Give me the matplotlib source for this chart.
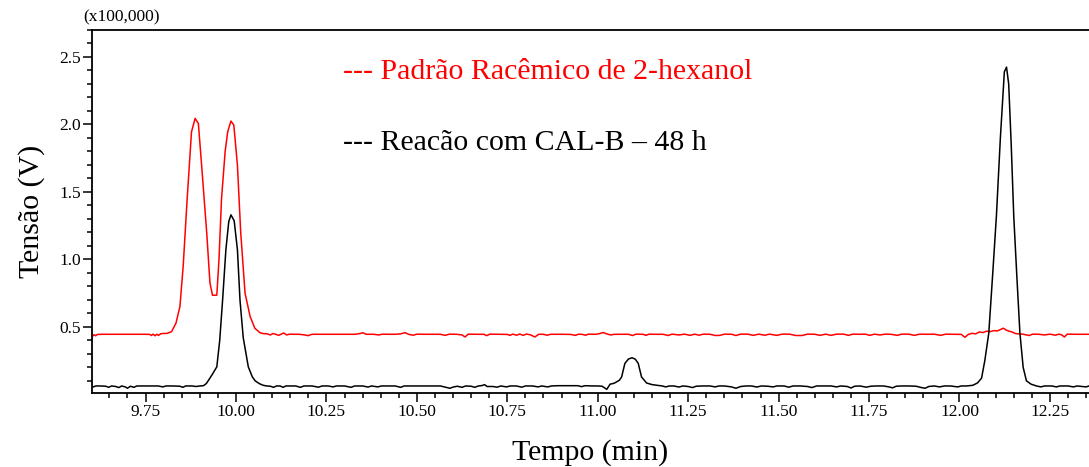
import matplotlib
matplotlib.use("Agg")
import matplotlib.pyplot as plt
from matplotlib.ticker import MultipleLocator, FormatStrFormatter

plt.rcParams['font.family'] = ['Liberation Serif', 'DejaVu Serif']

# --- chromatogram traces (time in min, signal in x100,000 V) ---
red_time = [
    9.600, 9.604, 9.608, 9.612, 9.617, 9.630, 9.650, 9.670, 9.690, 9.710,
    9.730, 9.750, 9.762, 9.766, 9.771, 9.776, 9.781, 9.786, 9.792, 9.800,
    9.810, 9.822, 9.834, 9.845, 9.854, 9.865, 9.877, 9.887, 9.896, 9.905,
    9.919, 9.928, 9.935, 9.947, 9.953, 9.960, 9.970, 9.977, 9.986, 9.994,
    10.004, 10.013, 10.025, 10.039, 10.052, 10.066, 10.075, 10.085, 10.095, 10.102,
    10.110, 10.118, 10.125, 10.132, 10.140, 10.148, 10.160, 10.175, 10.190, 10.199,
    10.210, 10.240, 10.270, 10.300, 10.330, 10.342, 10.351, 10.360, 10.380, 10.395,
    10.405, 10.420, 10.440, 10.455, 10.467, 10.478, 10.490, 10.500, 10.520, 10.545,
    10.565, 10.578, 10.590, 10.610, 10.625, 10.633, 10.642, 10.665, 10.685, 10.693,
    10.702, 10.730, 10.750, 10.757, 10.765, 10.776, 10.784, 10.794, 10.803, 10.815,
    10.826, 10.837, 10.850, 10.860, 10.870, 10.900, 10.925, 10.938, 10.948, 10.958,
    10.966, 10.975, 10.995, 11.005, 11.015, 11.026, 11.036, 11.046, 11.070, 11.085,
    11.096, 11.106, 11.125, 11.133, 11.142, 11.160, 11.180, 11.195, 11.205, 11.225,
    11.240, 11.255, 11.268, 11.280, 11.292, 11.310, 11.325, 11.338, 11.350, 11.370,
    11.382, 11.395, 11.415, 11.430, 11.445, 11.462, 11.475, 11.495, 11.510, 11.530,
    11.547, 11.565, 11.580, 11.600, 11.615, 11.630, 11.645, 11.660, 11.680, 11.693,
    11.705, 11.725, 11.740, 11.752, 11.765, 11.780, 11.795, 11.810, 11.828, 11.840,
    11.860, 11.875, 11.890, 11.910, 11.930, 11.948, 11.962, 11.990, 12.005, 12.015,
    12.025, 12.035, 12.045, 12.055, 12.065, 12.075, 12.085, 12.095, 12.105, 12.115,
    12.121, 12.128, 12.135, 12.145, 12.155, 12.165, 12.175, 12.185, 12.193, 12.202,
    12.220, 12.235, 12.250, 12.265, 12.275, 12.283, 12.290, 12.298, 12.320, 12.340,
    12.358,
]
red_signal = [
    0.438, 0.432, 0.442, 0.434, 0.444, 0.445, 0.445, 0.445, 0.445, 0.445,
    0.445, 0.445, 0.444, 0.436, 0.446, 0.434, 0.445, 0.437, 0.449, 0.451,
    0.452, 0.465, 0.527, 0.650, 0.950, 1.448, 1.945, 2.045, 2.007, 1.696,
    1.200, 0.826, 0.734, 0.735, 1.000, 1.450, 1.800, 1.945, 2.025, 1.995,
    1.696, 1.200, 0.750, 0.577, 0.490, 0.457, 0.450, 0.449, 0.440, 0.450,
    0.445, 0.437, 0.446, 0.455, 0.440, 0.446, 0.445, 0.445, 0.440, 0.435,
    0.445, 0.445, 0.445, 0.445, 0.445, 0.450, 0.456, 0.445, 0.445, 0.440,
    0.446, 0.445, 0.445, 0.448, 0.457, 0.444, 0.438, 0.446, 0.445, 0.445,
    0.445, 0.437, 0.446, 0.445, 0.440, 0.425, 0.446, 0.445, 0.445, 0.435,
    0.446, 0.445, 0.444, 0.437, 0.446, 0.438, 0.447, 0.437, 0.447, 0.440,
    0.425, 0.445, 0.445, 0.438, 0.445, 0.445, 0.444, 0.437, 0.446, 0.444,
    0.438, 0.446, 0.445, 0.450, 0.458, 0.447, 0.440, 0.445, 0.445, 0.445,
    0.436, 0.446, 0.445, 0.437, 0.446, 0.445, 0.445, 0.436, 0.446, 0.440,
    0.446, 0.437, 0.446, 0.438, 0.446, 0.445, 0.436, 0.437, 0.446, 0.445,
    0.436, 0.446, 0.446, 0.437, 0.446, 0.438, 0.446, 0.437, 0.446, 0.446,
    0.436, 0.436, 0.446, 0.445, 0.437, 0.446, 0.437, 0.446, 0.446, 0.437,
    0.446, 0.445, 0.446, 0.437, 0.446, 0.440, 0.446, 0.445, 0.437, 0.446,
    0.446, 0.437, 0.446, 0.445, 0.446, 0.437, 0.446, 0.445, 0.444, 0.423,
    0.445, 0.452, 0.448, 0.462, 0.458, 0.468, 0.465, 0.472, 0.470, 0.482,
    0.490, 0.478, 0.470, 0.462, 0.450, 0.448, 0.446, 0.440, 0.436, 0.446,
    0.445, 0.440, 0.446, 0.438, 0.446, 0.440, 0.425, 0.446, 0.445, 0.445,
    0.445,
]

black_time = [
    9.600, 9.606, 9.612, 9.625, 9.640, 9.648, 9.656, 9.668, 9.676, 9.684,
    9.694, 9.700, 9.708, 9.718, 9.726, 9.745, 9.765, 9.785, 9.798, 9.806,
    9.825, 9.845, 9.853, 9.861, 9.878, 9.890, 9.900, 9.910, 9.918, 9.924,
    9.935, 9.947, 9.955, 9.963, 9.972, 9.980, 9.986, 9.995, 10.004, 10.011,
    10.020, 10.034, 10.045, 10.053, 10.064, 10.075, 10.085, 10.095, 10.104, 10.112,
    10.122, 10.130, 10.138, 10.150, 10.165, 10.178, 10.188, 10.210, 10.228, 10.238,
    10.255, 10.268, 10.278, 10.300, 10.318, 10.328, 10.350, 10.365, 10.375, 10.392,
    10.402, 10.420, 10.440, 10.455, 10.465, 10.490, 10.515, 10.540, 10.565, 10.580,
    10.591, 10.602, 10.612, 10.625, 10.635, 10.650, 10.660, 10.670, 10.680, 10.687,
    10.694, 10.710, 10.722, 10.732, 10.748, 10.758, 10.775, 10.790, 10.800, 10.820,
    10.835, 10.845, 10.862, 10.872, 10.890, 10.920, 10.945, 10.955, 10.965, 10.985,
    11.000, 11.012, 11.025, 11.034, 11.045, 11.052, 11.060, 11.066, 11.075, 11.085,
    11.095, 11.104, 11.112, 11.121, 11.135, 11.150, 11.163, 11.178, 11.188, 11.198,
    11.210, 11.225, 11.235, 11.250, 11.262, 11.272, 11.290, 11.310, 11.325, 11.335,
    11.350, 11.370, 11.382, 11.395, 11.410, 11.425, 11.440, 11.452, 11.470, 11.485,
    11.495, 11.515, 11.528, 11.540, 11.560, 11.580, 11.592, 11.605, 11.625, 11.645,
    11.660, 11.672, 11.690, 11.700, 11.710, 11.725, 11.742, 11.755, 11.770, 11.790,
    11.805, 11.815, 11.825, 11.840, 11.860, 11.880, 11.895, 11.905, 11.915, 11.930,
    11.945, 11.958, 11.975, 11.995, 12.005, 12.020, 12.037, 12.050, 12.061, 12.070,
    12.081, 12.092, 12.102, 12.113, 12.124, 12.130, 12.136, 12.143, 12.150, 12.159,
    12.167, 12.176, 12.185, 12.198, 12.213, 12.225, 12.235, 12.255, 12.268, 12.278,
    12.300, 12.315, 12.325, 12.340, 12.350, 12.358,
]
black_signal = [
    0.060, 0.055, 0.062, 0.062, 0.060, 0.052, 0.062, 0.058, 0.050, 0.062,
    0.055, 0.045, 0.060, 0.052, 0.062, 0.062, 0.062, 0.062, 0.055, 0.062,
    0.062, 0.060, 0.052, 0.062, 0.062, 0.058, 0.062, 0.064, 0.080, 0.104,
    0.150, 0.204, 0.400, 0.700, 1.070, 1.280, 1.330, 1.286, 1.070, 0.700,
    0.420, 0.204, 0.130, 0.100, 0.080, 0.067, 0.062, 0.060, 0.052, 0.062,
    0.062, 0.052, 0.062, 0.062, 0.062, 0.052, 0.062, 0.062, 0.053, 0.062,
    0.062, 0.055, 0.062, 0.062, 0.052, 0.062, 0.062, 0.054, 0.062, 0.055,
    0.062, 0.062, 0.062, 0.052, 0.062, 0.062, 0.062, 0.062, 0.062, 0.052,
    0.045, 0.055, 0.060, 0.052, 0.062, 0.060, 0.052, 0.062, 0.065, 0.072,
    0.058, 0.058, 0.053, 0.062, 0.055, 0.062, 0.062, 0.053, 0.062, 0.062,
    0.055, 0.062, 0.055, 0.062, 0.064, 0.064, 0.064, 0.057, 0.064, 0.062,
    0.062, 0.060, 0.037, 0.075, 0.082, 0.092, 0.105, 0.129, 0.229, 0.262,
    0.271, 0.260, 0.229, 0.129, 0.084, 0.072, 0.067, 0.062, 0.055, 0.062,
    0.062, 0.054, 0.062, 0.058, 0.050, 0.060, 0.062, 0.062, 0.055, 0.062,
    0.062, 0.055, 0.045, 0.058, 0.062, 0.062, 0.054, 0.062, 0.060, 0.055,
    0.062, 0.062, 0.053, 0.062, 0.062, 0.058, 0.050, 0.062, 0.062, 0.062,
    0.055, 0.062, 0.058, 0.047, 0.060, 0.062, 0.053, 0.060, 0.062, 0.062,
    0.055, 0.048, 0.060, 0.062, 0.062, 0.060, 0.050, 0.045, 0.058, 0.062,
    0.055, 0.062, 0.062, 0.055, 0.062, 0.062, 0.067, 0.085, 0.120, 0.250,
    0.455, 0.900, 1.320, 1.900, 2.390, 2.425, 2.300, 1.850, 1.320, 0.850,
    0.455, 0.200, 0.100, 0.075, 0.062, 0.055, 0.062, 0.062, 0.055, 0.062,
    0.062, 0.055, 0.062, 0.058, 0.055, 0.062,
]

red_label = "--- Padrão Racêmico de 2-hexanol"
black_label = "--- Reacão com CAL-B – 48 h"

fig = plt.figure(figsize=(10.89, 4.67), dpi=100)
ax = fig.add_axes([0.0845, 0.1585, 0.9155, 0.7773])

ax.plot(red_time, red_signal, color='#ff0000', lw=1.1)
ax.plot(black_time, black_signal, color='black', lw=1.1)

ax.set_xlim(9.602, 12.358)
ax.set_ylim(0.01, 2.70)

ax.xaxis.set_major_locator(MultipleLocator(0.25))
ax.xaxis.set_minor_locator(MultipleLocator(0.05))
ax.xaxis.set_major_formatter(FormatStrFormatter('%.2f'))
ax.yaxis.set_major_locator(MultipleLocator(0.5))
ax.yaxis.set_minor_locator(MultipleLocator(0.1))
ax.yaxis.set_major_formatter(FormatStrFormatter('%.1f'))

ax.spines['right'].set_visible(False)
for s in ['left', 'bottom', 'top']:
    ax.spines[s].set_linewidth(1.3)

ax.tick_params(axis='both', which='both', direction='out', width=1.1,
               labelsize=12.5, pad=1.5)
ax.tick_params(axis='both', which='major', length=6.5)
ax.tick_params(axis='both', which='minor', length=3.3)
ax.tick_params(axis='x', which='both', top=False)

ax.set_xlabel("Tempo (min)", fontsize=21.5, labelpad=14)
ax.set_ylabel("Tensão (V)", fontsize=21.5, labelpad=10)

ax.text(-0.009, 1.013, "(x100,000)", transform=ax.transAxes,
        fontsize=12.5, ha='left', va='bottom')

# series captions placed in figure pixels
ax.text(343, 467 - 72, red_label, transform=None, color='#ff0000',
        fontsize=21.5, ha='left', va='center')
ax.text(343, 467 - 143, black_label, transform=None, color='black',
        fontsize=21.5, ha='left', va='center')

fig.savefig("out.png", dpi=100)
